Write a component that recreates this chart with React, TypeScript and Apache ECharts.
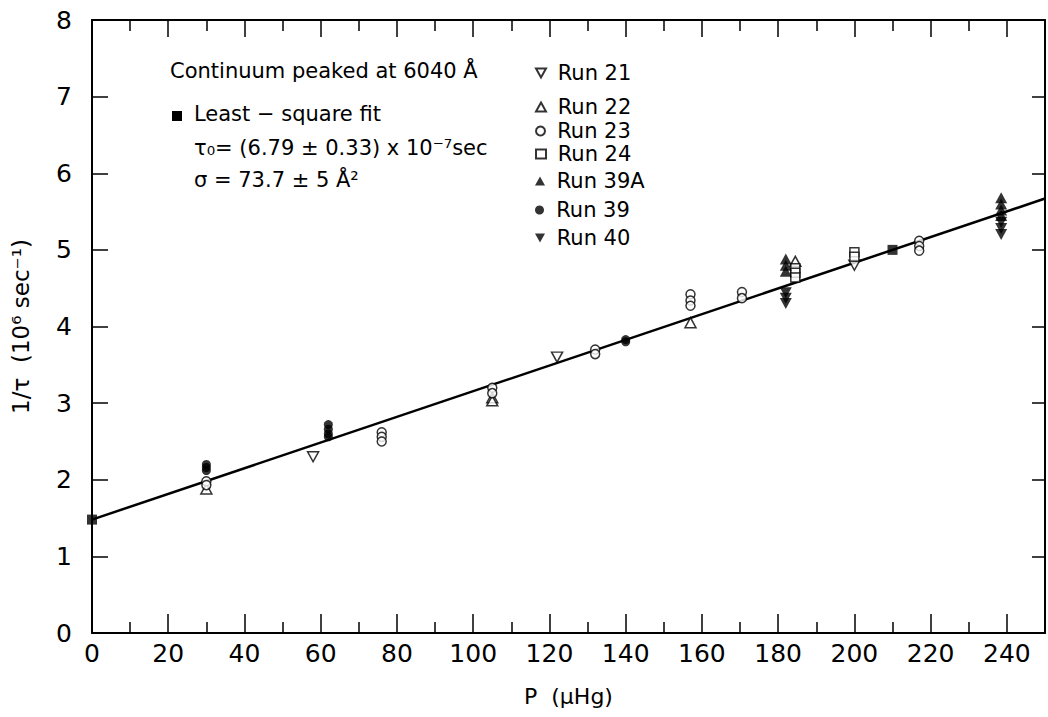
import React, { useEffect, useRef } from "react";
import * as echarts from "echarts";

// ---- data (P in μHg, 1/τ in 10^6 sec^-1) ----
const xTicks = [0, 20, 40, 60, 80, 100, 120, 140, 160, 180, 200, 220, 240];
const yTicks = [0, 1, 2, 3, 4, 5, 6, 7, 8];

const run21 = [[58, 2.3], [122, 3.6], [200, 4.8]];
const run22 = [[30, 1.88], [105, 3.07], [105, 3.03], [157, 4.05], [184.5, 4.85]];
const run23 = [
  [30, 1.98], [30, 1.93],
  [76, 2.62], [76, 2.56], [76, 2.5],
  [105, 3.2], [105, 3.13],
  [132, 3.7], [132, 3.64],
  [157, 4.42], [157, 4.34], [157, 4.27],
  [170.5, 4.45], [170.5, 4.37],
  [217, 5.12], [217, 5.05], [217, 4.99],
];
const run24 = [[184.5, 4.76], [184.5, 4.7], [184.5, 4.64], [200, 4.97], [200, 4.91]];
const run39A = [
  [182, 4.88], [182, 4.8], [182, 4.72],
  [238.5, 5.68], [238.5, 5.6], [238.5, 5.52], [238.5, 5.45],
];
const run39 = [
  [30, 2.2], [30, 2.16], [30, 2.12],
  [62, 2.72], [62, 2.66], [62, 2.6], [62, 2.56],
  [140, 3.83], [140, 3.8],
];
const run40 = [
  [182, 4.44], [182, 4.37], [182, 4.3],
  [238.5, 5.36], [238.5, 5.28], [238.5, 5.2],
];
const fitPoints = [[0, 1.48], [210, 5.0]];
const fitLine = [[0, 1.48], [250, 5.67]];

const legendNames = ["Run 21", "Run 22", "Run 23", "Run 24", "Run 39A", "Run 39", "Run 40"];
const legendRowsY = [73, 107, 131, 154, 181, 210, 238];

const FONT = "DejaVu Sans";
const DOWN_TRI = "path://M0,0L10,0L5,9Z";
const UP_TRI = "path://M5,0L10,9L0,9Z";

export default function App() {
  const ref = useRef<HTMLDivElement>(null);
  useEffect(() => {
    if (!ref.current) return;
    const chart = echarts.init(ref.current, undefined, { renderer: "svg" });

    const openStyle = { color: "#fff", borderColor: "#000", borderWidth: 1.5 };
    const fillStyle = { color: "#000", borderColor: "#000", borderWidth: 0 };
    const sc = (name: string, data: number[][], symbol: string, filled: boolean, size: number | number[]) => ({
      name,
      type: "scatter",
      data,
      symbol,
      symbolSize: size,
      itemStyle: filled ? fillStyle : openStyle,
      z: 5,
    });

    const tickText = { color: "#000", fontFamily: FONT, fontSize: 25 };
    const nameText = { color: "#000", fontFamily: FONT, fontSize: 22 };

    const legends = legendNames.map((n, i) => ({
      data: [n],
      orient: "vertical",
      left: 535,
      top: legendRowsY[i] - 12,
      itemWidth: 10,
      itemHeight: 9,
      formatter: (name: string) => " " + name,
      textStyle: { color: "#000", fontFamily: FONT, fontSize: 21, lineHeight: 24 },
      selectedMode: false,
      padding: 0,
    }));

    chart.setOption({
      animation: false,
      backgroundColor: "#fff",
      grid: { left: 92, top: 20, right: 0, bottom: 84, containLabel: false },
      xAxis: [
        {
          type: "value",
          position: "bottom",
          min: 0,
          max: 250,
          interval: 20,
          splitLine: { show: false },
          axisLine: { show: true, onZero: false, lineStyle: { color: "#000", width: 2 } },
          axisTick: { show: true, inside: true, length: 19, lineStyle: { color: "#000", width: 1.5 } },
          minorTick: { show: true, splitNumber: 2, length: 11, lineStyle: { color: "#000", width: 1.5 } },
          axisLabel: {
            ...tickText,
            margin: 8,
            formatter: (v: number) => (xTicks.includes(v) ? String(v) : ""),
          },
          name: "P  (μHg)",
          nameLocation: "middle",
          nameGap: 52,
          nameTextStyle: { ...nameText },
        },
        {
          type: "value",
          position: "top",
          min: 0,
          max: 250,
          interval: 20,
          splitLine: { show: false },
          axisLine: { show: true, onZero: false, lineStyle: { color: "#000", width: 2 } },
          axisTick: { show: true, inside: true, length: 17, lineStyle: { color: "#000", width: 1.5 } },
          minorTick: { show: true, splitNumber: 2, length: 11, lineStyle: { color: "#000", width: 1.5 } },
          axisLabel: { show: false },
        },
      ],
      yAxis: [
        {
          type: "value",
          position: "left",
          min: 0,
          max: 8,
          interval: 1,
          splitLine: { show: false },
          axisLine: { show: true, onZero: false, lineStyle: { color: "#000", width: 2 } },
          axisTick: { show: true, inside: true, length: 16, lineStyle: { color: "#000", width: 1.5 } },
          axisLabel: {
            ...tickText,
            margin: 20,
            formatter: (v: number) => (yTicks.includes(v) ? String(v) : ""),
          },
          name: "1/τ  (10⁶ sec⁻¹)",
          nameLocation: "middle",
          nameGap: 60,
          nameRotate: 90,
          nameTextStyle: { ...nameText, fontSize: 23 },
        },
        {
          type: "value",
          position: "right",
          min: 0,
          max: 8,
          interval: 1,
          splitLine: { show: false },
          axisLine: { show: true, onZero: false, lineStyle: { color: "#000", width: 2 } },
          axisTick: { show: true, inside: true, length: 13, lineStyle: { color: "#000", width: 1.5 } },
          axisLabel: { show: false },
        },
      ],
      legend: legends,
      graphic: [
        {
          type: "text",
          left: 170,
          top: 60,
          style: { text: "Continuum peaked at 6040 Å", fill: "#000", font: `21px "${FONT}"` },
        },
        {
          type: "rect",
          shape: { x: 172, y: 111, width: 10, height: 10 },
          style: { fill: "#000" },
        },
        {
          type: "text",
          left: 194,
          top: 103,
          style: { text: "Least − square fit", fill: "#000", font: `21px "${FONT}"` },
        },
        {
          type: "text",
          left: 194,
          top: 137,
          style: { text: "τ₀= (6.79 ± 0.33) x 10⁻⁷sec", fill: "#000", font: `21px "${FONT}"` },
        },
        {
          type: "text",
          left: 194,
          top: 169,
          style: { text: "σ = 73.7 ± 5 Å²", fill: "#000", font: `21px "${FONT}"` },
        },
      ],
      series: [
        {
          name: "fit line",
          type: "line",
          data: fitLine,
          symbol: "none",
          lineStyle: { color: "#000", width: 2.5 },
          z: 3,
        },
        {
          name: "fit",
          type: "scatter",
          data: fitPoints,
          symbol: "rect",
          symbolSize: 10,
          itemStyle: fillStyle,
          z: 6,
        },
        sc("Run 21", run21, DOWN_TRI, false, [11, 10]),
        sc("Run 22", run22, UP_TRI, false, [11, 10]),
        sc("Run 23", run23, "circle", false, 9),
        sc("Run 24", run24, "rect", false, 9),
        sc("Run 39A", run39A, UP_TRI, true, [12, 11]),
        sc("Run 39", run39, "circle", true, 9),
        sc("Run 40", run40, DOWN_TRI, true, [12, 11]),
      ],
    });
    return () => chart.dispose();
  }, []);
  return (
    <div
      ref={ref}
      style={{ position: "fixed", left: 0, top: 0, width: 1048, height: 717, background: "#fff" }}
    />
  );
}
